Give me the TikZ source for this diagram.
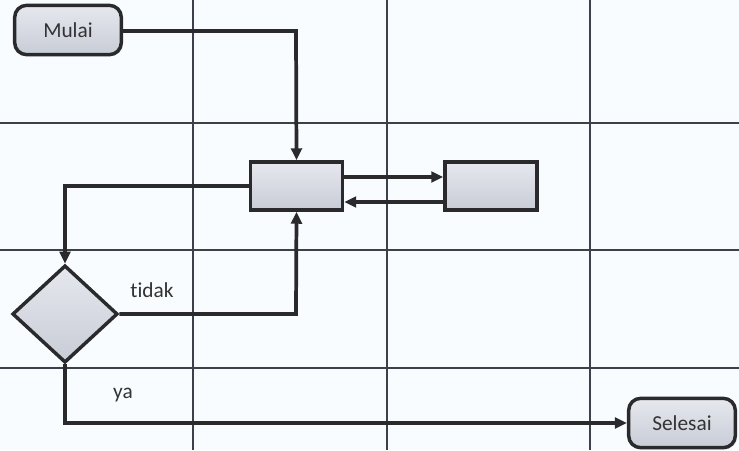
\documentclass[tikz,border=0pt]{standalone}
\usepackage{fontspec}
\setmainfont{Carlito}[Ligatures={NoCommon}]
\usetikzlibrary{arrows.meta, shapes.geometric, shadows}

\definecolor{gridline}{HTML}{3C4048}
\definecolor{boxline}{HTML}{2A2A2C}
\definecolor{boxtop}{HTML}{E6E8EE}
\definecolor{boxbottom}{HTML}{C8CCD6}
\definecolor{labeltext}{HTML}{333333}
\definecolor{paper}{HTML}{F9FCFF}

\begin{document}
\begin{tikzpicture}[
  x=0.75pt, y=-0.75pt,
  every node/.style={font=\fontsize{16}{19}\selectfont, text=labeltext},
  terminal/.style={draw=boxline, line width=2.6pt, rounded corners=9pt,
    top color=boxtop, bottom color=boxbottom, minimum width=80pt, minimum height=37pt,
    drop shadow={opacity=0.2, shadow xshift=1.2pt, shadow yshift=-1.2pt}},
  process/.style={draw=boxline, line width=2.6pt,
    top color=boxtop, bottom color=boxbottom, minimum width=69pt, minimum height=36pt,
    drop shadow={opacity=0.2, shadow xshift=1.2pt, shadow yshift=-1.2pt}},
  decision/.style={diamond, draw=boxline, line width=2.6pt, inner sep=0pt,
    top color=boxtop, bottom color=boxbottom, minimum width=79pt, minimum height=73pt},
  flow/.style={draw=boxline, line width=2.8pt, -{Triangle[length=9pt, width=8pt]}},
  >=stealth
]
% Page and grid
\fill[paper] (0,0) rectangle (739,450);
\useasboundingbox (0,0) rectangle (739,450);
\foreach \gx in {193, 387, 590}
  \draw[gridline, line width=1.4pt] (\gx,0) -- (\gx,450);
\foreach \gy in {123, 250, 368}
  \draw[gridline, line width=1.2pt] (0,\gy) -- (739,\gy);

% Nodes
\node[terminal] (mulai) at (68,30) {Mulai};
\node[process] (proses) at (296.5,186) {};
\node[process] (data) at (491,186) {};
\node[decision] (cek) at (65,314) {};
\node[terminal] (selesai) at (682,423) {Selesai};

% Helper corners
\coordinate (turnA) at (296,31);
\coordinate (turnB) at (65,186);
\coordinate (turnC) at (296,314);
\coordinate (turnD) at (65,423);

% Connectors
\draw[flow] (mulai.east |- turnA) -- (turnA) -- (proses.north);
\draw[flow] (proses.east |- 0,177) -- (data.west |- 0,177);
\draw[flow] (data.west |- 0,202) -- (proses.east |- 0,202);
\draw[flow] (proses.west) -- (turnB) -- (cek.north);
\draw[flow] (cek.east) -- (turnC) -- (proses.south);
\draw[flow] (cek.south) -- (turnD) -- (selesai.west);

% Branch labels
\node (tidak) at (152,290) {tidak};
\node (ya) at (123,395) {ya};
\end{tikzpicture}
\end{document}
